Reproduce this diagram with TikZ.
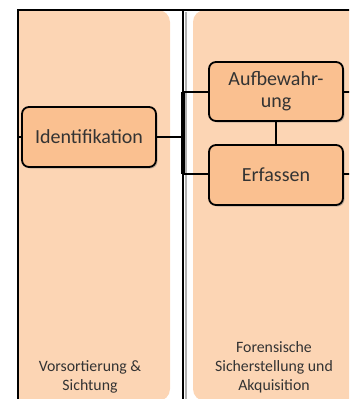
\documentclass[tikz,border=0pt]{standalone}
\usepackage{fontspec}
\setmainfont{Carlito}
\usetikzlibrary{shadows}
\definecolor{lanefill}{HTML}{FCD5B4}
\definecolor{boxfill}{HTML}{FAC090}
\definecolor{txt}{HTML}{333333}
\tikzset{
  stepbox/.style={draw=black, line width=1.8pt, fill=boxfill, rounded corners=7pt,
    minimum width=134pt, minimum height=60pt, text=txt, align=center,
    font=\fontsize{20}{22}\selectfont, inner sep=1pt,
    drop shadow={opacity=0.45, shadow xshift=1.5pt, shadow yshift=-1.5pt}},
  link/.style={draw=black, line width=2.2pt},
  lanelabel/.style={text=txt, align=center, font=\fontsize{15.8}{19}\selectfont}
}
\begin{document}
\begin{tikzpicture}[x=1pt,y=1pt]
\useasboundingbox (0,0) rectangle (349,-399);
\clip (0,0) rectangle (349,-399);
% swimlanes
\fill[lanefill] (18,-10) [rounded corners=12pt] -- (170,-10) -- (170,-401) [sharp corners] -- (18,-401) -- cycle;
\fill[lanefill, rounded corners=12pt] (193,-401) -- (193,-10) -- (362,-10) -- (362,-401) -- cycle;
% frame and lane divider
\draw[line width=1.6pt] (18,-400) -- (18,-10) -- (350,-10);
\draw[black!30, line width=2pt] (185.8,-12) -- (185.8,-400);
\draw[line width=2.2pt] (183,-10) -- (183,-400);
% process steps
\node[stepbox] (ident) at (89,-137) {Identifikation};
\node[stepbox, minimum height=59pt] (aufb) at (276,-91.5) {Aufbewahr-\\ung};
\node[stepbox] (erf) at (276,-175) {Erfassen};
% junction points
\coordinate (lstub) at (18,-137);
\coordinate (junc) at (183,-137);
\coordinate (bt) at (183,-92);
\coordinate (bb) at (183,-174);
\coordinate (rt) at (350,-92);
\coordinate (rb) at (350,-174);
% connectors
\draw[line width=3.2pt] (bt) -- (bb);
\draw[link] (ident.east) -- (junc);
\draw[link] (bt) -- (bt -| aufb.west);
\draw[link] (bb) -- (bb -| erf.west);
\draw[link] (lstub) -- (ident.west);
\draw[link] (aufb.east |- rt) -- (rt);
\draw[link] (erf.east |- rb) -- (rb);
\draw[link] (aufb.south) -- (erf.north);
% lane titles
\node[lanelabel] (l1) at (90,-376.5) {Vorsortierung \&\\Sichtung};
\node[lanelabel] (l2) at (274,-367) {Forensische\\Sicherstellung und\\Akquisition};
\end{tikzpicture}
\end{document}
